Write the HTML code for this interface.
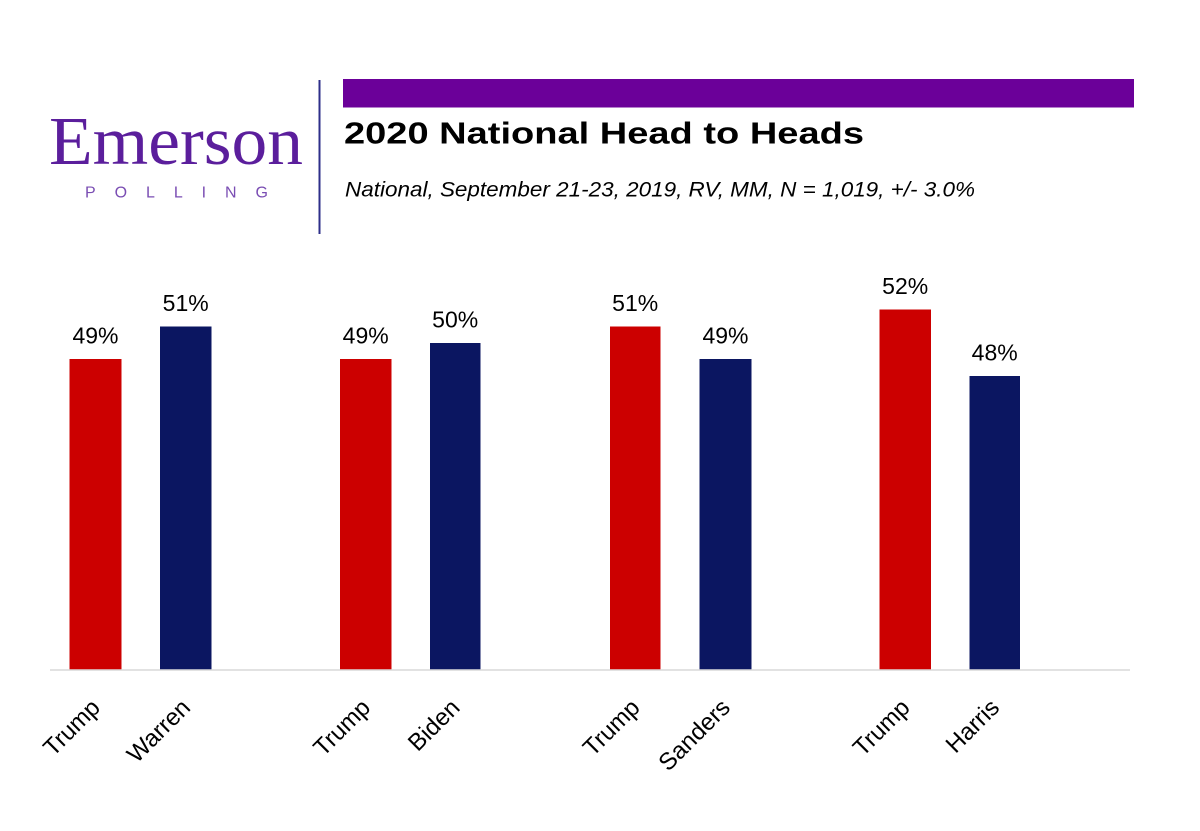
<!DOCTYPE html>
<html>
<head>
<meta charset="utf-8">
<style>
  html, body { margin: 0; padding: 0; background: #ffffff; }
  body { width: 1200px; height: 831px; overflow: hidden; }
  svg { display: block; }
</style>
</head>
<body>
<svg width="1200" height="831" viewBox="0 0 1200 831" xmlns="http://www.w3.org/2000/svg">
  <rect x="0" y="0" width="1200" height="831" fill="#ffffff"/>

  <!-- Logo -->
  <text x="49" y="164" font-family="Liberation Serif, serif" font-size="69" fill="#5b1e9c" textLength="254" lengthAdjust="spacingAndGlyphs">Emerson</text>
  <text x="85" y="197.5" font-family="Liberation Sans, sans-serif" font-size="16" fill="#7a4db3" textLength="183" lengthAdjust="spacing">POLLING</text>

  <!-- Divider -->
  <line x1="319.5" y1="80" x2="319.5" y2="234" stroke="#2e2f8a" stroke-width="2"/>

  <!-- Purple bar -->
  <rect x="343" y="79" width="791" height="28.5" fill="#6b0099"/>

  <!-- Title -->
  <text x="344" y="143.3" font-family="Liberation Sans, sans-serif" font-weight="bold" font-size="31" fill="#000000" textLength="520" lengthAdjust="spacingAndGlyphs">2020 National Head to Heads</text>
  <text x="345" y="196.7" font-family="Liberation Sans, sans-serif" font-style="italic" font-size="21" fill="#000000" textLength="630" lengthAdjust="spacingAndGlyphs">National, September 21-23, 2019, RV, MM, N = 1,019,  +/- 3.0%</text>

  <!-- Bars -->
  <g>
    <rect x="69.5" y="359" width="52" height="310.5" fill="#cc0000"/>
    <rect x="160" y="326.5" width="51.5" height="343" fill="#0b1661"/>

    <rect x="340" y="359" width="51.5" height="310.5" fill="#cc0000"/>
    <rect x="430" y="343" width="50.5" height="326.5" fill="#0b1661"/>

    <rect x="610" y="326.5" width="50.5" height="343" fill="#cc0000"/>
    <rect x="699.5" y="359" width="52" height="310.5" fill="#0b1661"/>

    <rect x="879.5" y="309.5" width="51.5" height="360" fill="#cc0000"/>
    <rect x="969.5" y="376" width="50.5" height="293.5" fill="#0b1661"/>
  </g>

  <!-- Axis line -->
  <line x1="50" y1="670" x2="1130" y2="670" stroke="#d9d9d9" stroke-width="1.5"/>

  <!-- Value labels -->
  <g font-family="Liberation Sans, sans-serif" font-size="23" fill="#000000" text-anchor="middle">
    <text x="95.5" y="343.3">49%</text>
    <text x="185.7" y="311">51%</text>
    <text x="365.7" y="343.3">49%</text>
    <text x="455.2" y="327.5">50%</text>
    <text x="635.2" y="311">51%</text>
    <text x="725.5" y="343.3">49%</text>
    <text x="905.2" y="294">52%</text>
    <text x="994.7" y="360.3">48%</text>
  </g>

  <!-- Category labels -->
  <g font-family="Liberation Sans, sans-serif" font-size="24" fill="#000000" text-anchor="end">
    <text transform="translate(101.5,709) rotate(-45)">Trump</text>
    <text transform="translate(191.7,709) rotate(-45)">Warren</text>
    <text transform="translate(371.7,709) rotate(-45)">Trump</text>
    <text transform="translate(461.2,709) rotate(-45)">Biden</text>
    <text transform="translate(641.2,709) rotate(-45)">Trump</text>
    <text transform="translate(731.5,709) rotate(-45)">Sanders</text>
    <text transform="translate(911.2,709) rotate(-45)">Trump</text>
    <text transform="translate(1000.7,709) rotate(-45)">Harris</text>
  </g>
</svg>
</body>
</html>
